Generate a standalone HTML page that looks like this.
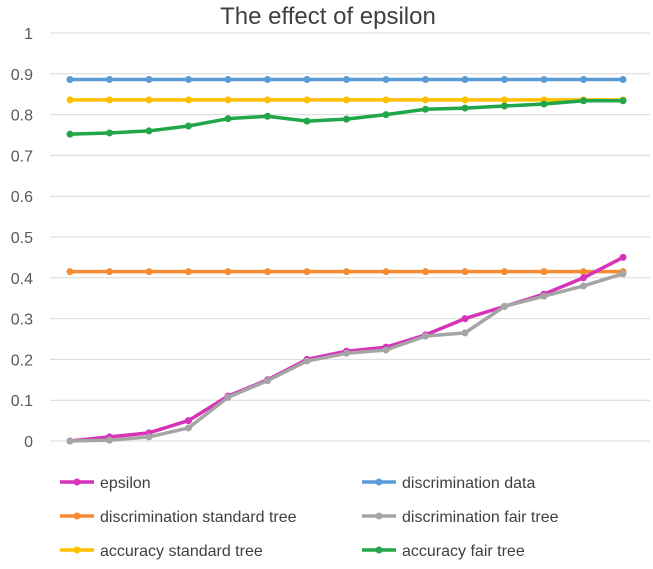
<!DOCTYPE html>
<html><head><meta charset="utf-8"><style>
body{margin:0;background:#fff;font-family:"Liberation Sans",sans-serif}
svg{display:block}
</style></head><body>
<svg id="chart" width="653" height="569" xmlns="http://www.w3.org/2000/svg">
<text x="328" y="24" text-anchor="middle" font-size="24" fill="#404040">The effect of epsilon</text>
<g id="grid"></g><g id="yticks"></g><g id="series"></g><g id="legend"></g>
</svg>
<script>
const xIndex = [0,1,2,3,4,5,6,7,8,9,10,11,12,13,14];
const yTicks = [0,0.1,0.2,0.3,0.4,0.5,0.6,0.7,0.8,0.9,1];
const yTickLabels = ["0","0.1","0.2","0.3","0.4","0.5","0.6","0.7","0.8","0.9","1"];
const epsilon = [0,0.01,0.02,0.05,0.11,0.15,0.2,0.22,0.23,0.26,0.3,0.33,0.36,0.4,0.45];
const discData = [0.886,0.886,0.886,0.886,0.886,0.886,0.886,0.886,0.886,0.886,0.886,0.886,0.886,0.886,0.886];
const discStd = [0.415,0.415,0.415,0.415,0.415,0.415,0.415,0.415,0.415,0.415,0.415,0.415,0.415,0.415,0.415];
const discFair = [0,0.002,0.01,0.032,0.107,0.148,0.196,0.215,0.223,0.257,0.265,0.33,0.355,0.38,0.41];
const accStd = [0.836,0.836,0.836,0.836,0.836,0.836,0.836,0.836,0.836,0.836,0.836,0.836,0.836,0.836,0.836];
const accFair = [0.752,0.755,0.76,0.772,0.79,0.796,0.784,0.789,0.8,0.813,0.816,0.821,0.826,0.834,0.834];
const seriesNames = ["epsilon","discrimination data","discrimination standard tree","discrimination fair tree","accuracy standard tree","accuracy fair tree"];

const NS="http://www.w3.org/2000/svg";
const x = i => 70 + i*(623-70)/14;
const y = v => 441 - v*408;
function mk(tag, attrs, parent){const e=document.createElementNS(NS,tag);for(const k in attrs)e.setAttribute(k,attrs[k]);parent.appendChild(e);return e;}
const grid=document.getElementById('grid'), yt=document.getElementById('yticks');
yTicks.forEach((t,i)=>{
  const l=mk('line',{x1:50,x2:650,y1:y(t),y2:y(t),stroke:'#d9d9d9','stroke-width':1},grid);
  
  
  const tx=mk('text',{x:33,y:y(t)+6,'text-anchor':'end','font-size':16,fill:'#595959'},yt);
  tx.textContent=yTickLabels[i];
  
  
});
const sg=document.getElementById('series');
const defs=[
 {d:discData,c:'#5b9bd5',n:'series-discrimination-data'},
 {d:accStd,c:'#ffc000',n:'series-accuracy-standard-tree'},
 {d:accFair,c:'#21a74a',n:'series-accuracy-fair-tree'},
 {d:discStd,c:'#f58b33',n:'series-discrimination-standard-tree'},
 {d:epsilon,c:'#d633b8',n:'series-epsilon'},
 {d:discFair,c:'#a5a5a5',n:'series-discrimination-fair-tree'}
];
defs.forEach(s=>{
  const g=mk('g',{},sg);
  
  
  const p=mk('polyline',{points:xIndex.map(i=>x(i)+','+y(s.d[i])).join(' '),fill:'none',stroke:s.c,'stroke-width':3.5,'stroke-linejoin':'round'},g);
  
  
  xIndex.forEach(i=>{
    const c=mk('circle',{cx:x(i),cy:y(s.d[i]),r:3.5,fill:s.c},g);
    
    
  });
});
const lg=document.getElementById('legend');
const lcol=['#d633b8','#5b9bd5','#f58b33','#a5a5a5','#ffc000','#21a74a'];
seriesNames.forEach((n,i)=>{
  const cx = i%2===0 ? 60 : 362, cy = 482 + Math.floor(i/2)*34;
  const g=mk('g',{},lg);
  
  
  mk('line',{x1:cx,x2:cx+34,y1:cy,y2:cy,stroke:lcol[i],'stroke-width':3.5},g);
  mk('circle',{cx:cx+17,cy:cy,r:3.5,fill:lcol[i]},g);
  const t=mk('text',{x:cx+40,y:cy+6,'font-size':16,fill:'#404040'},g);
  t.textContent=n;
});
</script>
</body></html>
